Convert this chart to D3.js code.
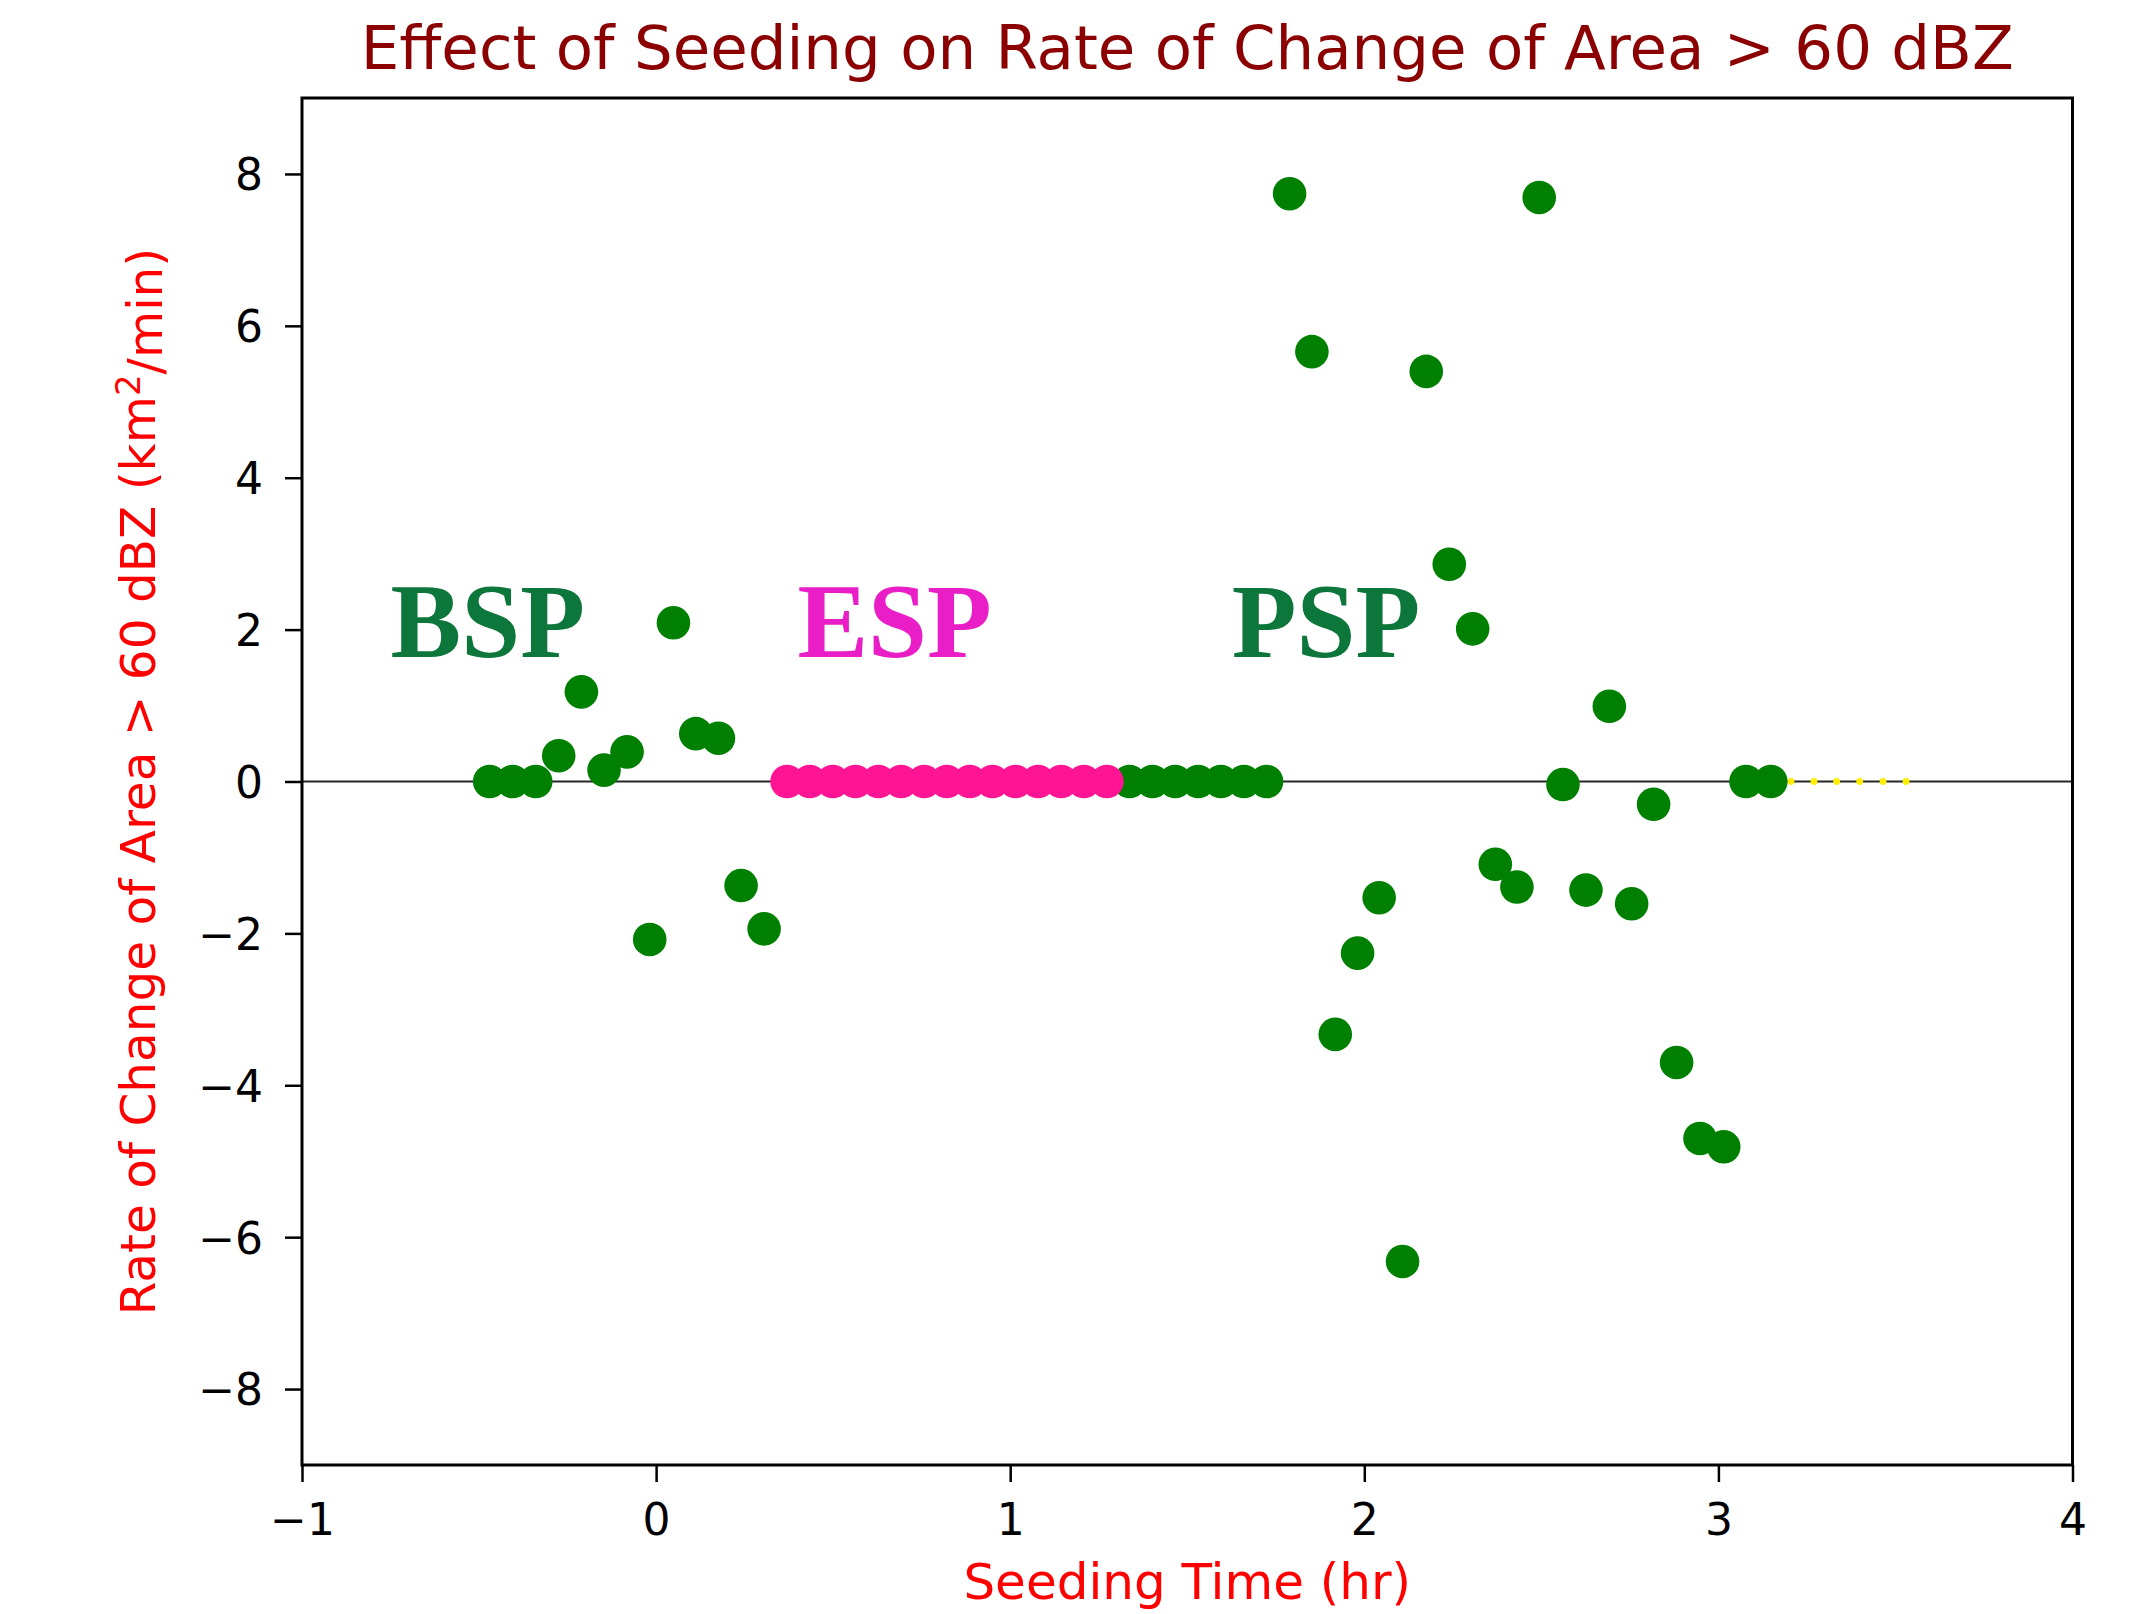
<!DOCTYPE html>
<html>
<head>
<meta charset="utf-8">
<script src="https://cdn.jsdelivr.net/npm/d3@7"></script>
<style>
  html, body { margin: 0; padding: 0; background: #ffffff; }
  svg { display: block; }
</style>
</head>
<body>
<div id="chart"></div>
<script>
// ---------------- data ----------------
const bspTime = [-0.470, -0.405, -0.340, -0.275, -0.211, -0.147, -0.082, -0.018, 0.049, 0.112, 0.176, 0.240, 0.305];
const bspRate = [0, 0, 0, 0.34, 1.18, 0.15, 0.39, -2.08, 2.09, 0.63, 0.57, -1.37, -1.94];

const espTime = [0.370, 0.434, 0.499, 0.563, 0.628, 0.692, 0.757, 0.821, 0.886, 0.950, 1.015, 1.079, 1.144, 1.208, 1.273];
const espRate = [0, 0, 0, 0, 0, 0, 0, 0, 0, 0, 0, 0, 0, 0, 0];

const pspTime = [1.337, 1.402, 1.466, 1.531, 1.595, 1.660, 1.724,
                 1.789, 1.852, 1.918, 1.981, 2.042, 2.108, 2.175, 2.240, 2.306, 2.370, 2.431,
                 2.494, 2.561, 2.626, 2.692, 2.755, 2.817, 2.882, 2.948, 3.015, 3.078, 3.148];
const pspRate = [0, 0, 0, 0, 0, 0, 0,
                 7.74, 5.66, -3.33, -2.26, -1.53, -6.32, 5.40, 2.86, 2.01, -1.09, -1.39,
                 7.69, -0.04, -1.43, 0.99, -1.61, -0.30, -3.70, -4.70, -4.81, 0, 0];

const afterTime = [3.205, 3.270, 3.334, 3.399, 3.465, 3.530];
const afterRate = [0, 0, 0, 0, 0, 0];

const xTicks = [-1, 0, 1, 2, 3, 4];
const xTickLabels = ["\u22121", "0", "1", "2", "3", "4"];
const yTicks = [-8, -6, -4, -2, 0, 2, 4, 6, 8];
const yTickLabels = ["\u22128", "\u22126", "\u22124", "\u22122", "0", "2", "4", "6", "8"];

const phaseNames = ["BSP", "ESP", "PSP"];
const phaseX = [-0.750, 0.399, 1.626];
const phaseY = [1.64, 1.64, 1.64];

const titleText = "Effect of Seeding on Rate of Change of Area > 60 dBZ";
const xLabelText = "Seeding Time (hr)";

// ---------------- layout ----------------
const W = 2131, H = 1614;
const margin = { left: 302, right: W - 2072.5, top: 98, bottom: H - 1465 };
const iw = W - margin.left - margin.right;
const ih = H - margin.top - margin.bottom;

const svg = d3.select("#chart").append("svg")
  .attr("width", W).attr("height", H)
  .style("font-family", "'DejaVu Sans', sans-serif");

svg.append("rect").attr("width", W).attr("height", H).attr("fill", "#fff");

const g = svg.append("g").attr("transform", `translate(${margin.left},${margin.top})`);

const x = d3.scaleLinear().domain([-1, 4]).range([0, iw]);
const y = d3.scaleLinear().domain([-9, 9]).range([ih, 0]);

// zero line
g.append("line")
  .attr("x1", 0).attr("x2", iw)
  .attr("y1", y(0)).attr("y2", y(0))
  .attr("stroke", "#262626").attr("stroke-width", 1.8);

// points
function drawSeries(times, rates, color, r) {
  g.append("g").selectAll("circle")
    .data(times.map((t, i) => [t, rates[i]]))
    .join("circle")
    .attr("cx", d => x(d[0]))
    .attr("cy", d => y(d[1]))
    .attr("r", r)
    .attr("fill", color);
}
drawSeries(bspTime, bspRate, "#008000", 16.8);
drawSeries(pspTime, pspRate, "#008000", 16.8);
drawSeries(espTime, espRate, "#ff1493", 16.8);
drawSeries(afterTime, afterRate, "#ffee00", 3.4);

// phase labels
const phaseColors = ["#0d763a", "#e91ec7", "#0d763a"];
g.append("g").selectAll("text")
  .data(phaseNames)
  .join("text")
  .attr("x", (d, i) => x(phaseX[i]))
  .attr("y", (d, i) => y(phaseY[i]))
  .attr("fill", (d, i) => phaseColors[i])
  .style("font-family", "'Liberation Serif', 'Times New Roman', serif")
  .style("font-weight", "bold")
  .style("font-size", "106px")
  .text(d => d);

// axes
const xAxis = d3.axisBottom(x).tickValues(xTicks).tickFormat((d, i) => xTickLabels[i]).tickSize(17).tickSizeOuter(0);
const gx = g.append("g").attr("transform", `translate(0,${ih})`).call(xAxis);
gx.select(".domain").remove();
gx.selectAll(".tick line").attr("stroke", "#000").attr("stroke-width", 2.5);
gx.selectAll(".tick text")
  .attr("y", 70).attr("dy", 0)
  .attr("fill", "#000")
  .style("font-family", "'DejaVu Sans', sans-serif")
  .style("font-size", "44px");

const yAxis = d3.axisLeft(y).tickValues(yTicks).tickFormat((d, i) => yTickLabels[i]).tickSize(17).tickSizeOuter(0);
const gy = g.append("g").call(yAxis);
gy.select(".domain").remove();
gy.selectAll(".tick line").attr("stroke", "#000").attr("stroke-width", 2.5);
gy.selectAll(".tick text")
  .attr("x", -39).attr("dy", "0.36em")
  .attr("fill", "#000")
  .style("font-family", "'DejaVu Sans', sans-serif")
  .style("font-size", "44px");

// frame
g.append("rect")
  .attr("x", 0).attr("y", 0).attr("width", iw).attr("height", ih)
  .attr("fill", "none").attr("stroke", "#000").attr("stroke-width", 3);

// title
svg.append("text")
  .attr("x", margin.left + iw / 2).attr("y", 69)
  .attr("text-anchor", "middle")
  .attr("fill", "#8b0000")
  .style("font-size", "61px")
  .text(titleText);

// x label
svg.append("text")
  .attr("x", margin.left + iw / 2).attr("y", 1599)
  .attr("text-anchor", "middle")
  .attr("fill", "#ff0000")
  .style("font-size", "50px")
  .text(xLabelText);

// y label
const yl = svg.append("text")
  .attr("transform", `translate(155,${margin.top + ih / 2}) rotate(-90)`)
  .attr("text-anchor", "middle")
  .attr("fill", "#ff0000")
  .style("font-size", "48.5px");
yl.append("tspan").text("Rate of Change of Area > 60 dBZ (km");
yl.append("tspan").attr("dy", "-0.45em").style("font-size", "34px").text("2");
yl.append("tspan").attr("dy", "0.45em").text("/min)");
</script>
</body>
</html>
